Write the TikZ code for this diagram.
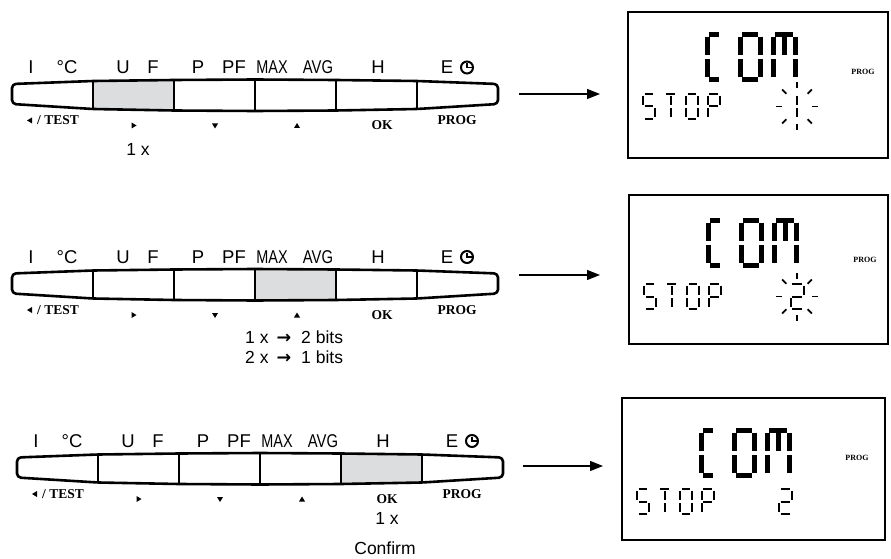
\documentclass[tikz,border=0pt]{standalone}
\usepackage{fontspec}
\usepackage{graphicx}
\usetikzlibrary{arrows.meta}
\newfontfamily\arial{Liberation Sans}
\newfontfamily\tnr{Liberation Serif}
\newfontfamily\dejavu{DejaVu Sans}
\definecolor{hlgray}{RGB}{220,221,222}

\tikzset{
  kbline/.style={line width=2.6pt, line join=round},
  kbl/.style={font=\arial\fontsize{18.5}{20}\selectfont, inner sep=0pt, anchor=base},
  kbs/.style={font=\tnr\bfseries\fontsize{13.5}{14}\selectfont, inner sep=0pt, anchor=base},
  note/.style={font=\arial\fontsize{17.5}{19}\selectfont, inner sep=0pt},
  dispbox/.style={draw, line width=2.8pt, inner sep=0pt},
  progtxt/.style={font=\tnr\bfseries\fontsize{8}{9}\selectfont, inner sep=0pt},
  arr/.style={line width=1.3pt, -{Triangle[length=13pt,width=10pt]}},
  lcdseg/.style={line width=2pt},
  raystyle/.style={line width=1.8pt},
}

\pgfkeys{/lcd/.cd,
 a/.code={\draw[lcdseg] ({\lx+\lg},{\ly}) -- ({\lx+\lw-\lg},{\ly});},
 b/.code={\draw[lcdseg] ({\lx+\lw},{\ly+\lg}) -- ({\lx+\lw},{\ly+\lh/2-\lg});},
 c/.code={\draw[lcdseg] ({\lx+\lw},{\ly+\lh/2+\lg}) -- ({\lx+\lw},{\ly+\lh-\lg});},
 d/.code={\draw[lcdseg] ({\lx+\lg},{\ly+\lh}) -- ({\lx+\lw-\lg},{\ly+\lh});},
 e/.code={\draw[lcdseg] ({\lx},{\ly+\lh/2+\lg}) -- ({\lx},{\ly+\lh-\lg});},
 f/.code={\draw[lcdseg] ({\lx},{\ly+\lg}) -- ({\lx},{\ly+\lh/2-\lg});},
 g/.code={\draw[lcdseg] ({\lx+\lg},{\ly+\lh/2}) -- ({\lx+\lw-\lg},{\ly+\lh/2});},
 h/.code={\draw[lcdseg] ({\lx+\lw/2},{\ly+\lg}) -- ({\lx+\lw/2},{\ly+\lh/2-\lg});},
 i/.code={\draw[lcdseg] ({\lx+\lw/2},{\ly+\lh/2+\lg}) -- ({\lx+\lw/2},{\ly+\lh-\lg});},
}

\newcommand\lcdchar[6]{%
  \pgfmathsetmacro\lx{#1}\pgfmathsetmacro\ly{#2}\pgfmathsetmacro\lw{#3}%
  \pgfmathsetmacro\lh{#4}\pgfmathsetmacro\lg{#5}%
  \foreach \s in {#6}{\pgfkeys{/lcd/\s}}%
}

% big COM: #1 box left, #2 top of glyphs
\newcommand\bigcom[2]{%
  \begin{scope}[lcdseg/.style={line width=5pt}]
    \lcdchar{#1+79}{#2+2.5}{14}{45}{2.2}{a,d,e,f}
    \lcdchar{#1+112}{#2+2.5}{20}{45}{2.2}{a,b,c,d,e,f}
    \lcdchar{#1+145}{#2+2.5}{22}{45}{2.2}{a,b,c,e,f,h}
  \end{scope}}

% STOP: #1 box left, #2 top
\newcommand\stopword[2]{%
  \lcdchar{#1+15}{#2+1}{12}{25}{1.6}{a,f,g,c,d}
  \lcdchar{#1+36.5}{#2+1}{12}{25}{1.6}{a,h,i}
  \lcdchar{#1+58}{#2+1}{12}{25}{1.6}{a,b,c,d,e,f}
  \lcdchar{#1+79.5}{#2+1}{12}{25}{1.6}{a,b,f,g,e}}

\newcommand\rays[2]{%
  \foreach \an in {0,45,...,315}
    \draw[raystyle, shift={(#1,#2)}] (\an:15 and 18) -- (\an:21 and 24);}

% keyboard: #1 prefix, #2 highlighted button, #3 dx, #4 centre y
\newcommand\kbd[4]{%
\begin{scope}[shift={(#3,#4)}]
  \foreach \xa/\ta/\ba/\xb/\tb/\bb [count=\n] in
    {12/11.5/8.5/93/14.5/13.5, 93/14.5/13.5/174/15.5/15, 174/15.5/15/255/16/15.5,
     255/16/15.5/336/15.5/15, 336/15.5/15/417/14.5/13.5, 417/14.5/13.5/498/11.5/8.5}{
    \ifnum\n=#2 \fill[hlgray] (\xa,-\ta) -- (\xb,-\tb) -- (\xb,\bb) -- (\xa,\ba) -- cycle;\fi}
  \draw[kbline, rounded corners=4pt] (12,-1) -- (12,-11.5) -- (93,-14.5) -- (174,-15.5) -- (255,-16)
    -- (336,-15.5) -- (417,-14.5) -- (498,-11.5) -- (498,8.5) -- (417,13.5) -- (336,15)
    -- (255,15.5) -- (174,15) -- (93,13.5) -- (12,8.5) -- cycle;
  \foreach \x/\t/\b in {93/14.5/13.5, 174/15.5/15, 255/16/15.5, 336/15.5/15, 417/14.5/13.5}
    \draw[kbline] (\x,-\t) -- (\x,\b);
  \node[kbl] (#1-I) at (31,-21.5) {I};
  \node[kbl] (#1-C) at (67,-21.5) {°C};
  \node[kbl] (#1-U) at (123,-21.5) {U};
  \node[kbl] (#1-F) at (153,-21.5) {F};
  \node[kbl] (#1-P) at (198,-21.5) {P};
  \node[kbl] (#1-PF) at (234,-21.5) {PF};
  \node[kbl] (#1-MAX) at (272,-21.5) {\scalebox{0.78}[1]{MAX}};
  \node[kbl] (#1-AVG) at (318,-21.5) {\scalebox{0.8}[1]{AVG}};
  \node[kbl] (#1-H) at (378,-21.5) {H};
  \node[kbl] (#1-E) at (447,-21.5) {E};
  \draw[line width=2pt] (467,-28) circle[radius=6pt];
  \draw[line width=1.8pt] (467,-32.5) -- (467,-28) -- (471.5,-28);
  \fill (27,25) -- (32,22) -- (32,28) -- cycle;
  \node[kbs] (#1-test) at (58,29) {/ TEST};
  \fill (131.5,27) -- (136.5,30) -- (131.5,33) -- cycle;
  \fill (212,28) -- (218,28) -- (215,33) -- cycle;
  \fill (294,32.5) -- (300,32.5) -- (297,27.5) -- cycle;
  \node[kbs] (#1-ok) at (382,34) {OK};
  \node[kbs] (#1-prog) at (457,29) {PROG};
\end{scope}}

\begin{document}
\begin{tikzpicture}[x=1pt,y=-1pt]
\useasboundingbox (0,0) rectangle (891,559);

% ---------- row 1 ----------
\kbd{r1}{2}{0}{95.5}
\node[note] (r1n) at (138,149) {1 x};
\node[dispbox, minimum width=260pt, minimum height=146pt] (d1) at (758,85) {};
\bigcom{628}{32}
\stopword{628}{93}
\lcdchar{791}{94}{12}{25}{1.6}{h,i}
\rays{797}{106.5}
\node[progtxt] (d1p) at (863,72) {PROG};
\coordinate (k1) at (519,94);
\coordinate (t1) at (600,94);
\draw[arr] (k1) -- (t1);

% ---------- row 2 ----------
\kbd{r2}{4}{0}{285}
\node[note, anchor=west] (r2n1) at (245,337) {1 x\hspace{8pt}{\dejavu\bfseries →}\hspace{10pt}2 bits};
\node[note, anchor=west] (r2n2) at (245,357) {2 x\hspace{8pt}{\dejavu\bfseries →}\hspace{10pt}1 bits};
\node[dispbox, minimum width=259pt, minimum height=149pt] (d2) at (758.5,269.5) {};
\bigcom{629}{218}
\stopword{629}{283}
\lcdchar{790.5}{284}{13}{25}{1.6}{a,b,g,e,d}
\rays{797}{296.5}
\node[progtxt] (d2p) at (865,260) {PROG};
\coordinate (k2) at (519,275);
\coordinate (t2) at (600,275);
\draw[arr] (k2) -- (t2);

% ---------- row 3 ----------
\kbd{r3}{5}{5}{469}
\node[note] (r3n1) at (387,518) {1 x};
\node[note] (r3n2) at (385,548) {Confirm};
\node[dispbox, minimum width=263pt, minimum height=142pt] (d3) at (753.5,469) {};
\bigcom{622}{428}
\stopword{622}{488}
\lcdchar{779}{489}{13}{25}{1.6}{a,b,g,e,d}
\node[progtxt] (d3p) at (857,458) {PROG};
\coordinate (k3) at (523,466);
\coordinate (t3) at (603,466);
\draw[arr] (k3) -- (t3);
\end{tikzpicture}
\end{document}
